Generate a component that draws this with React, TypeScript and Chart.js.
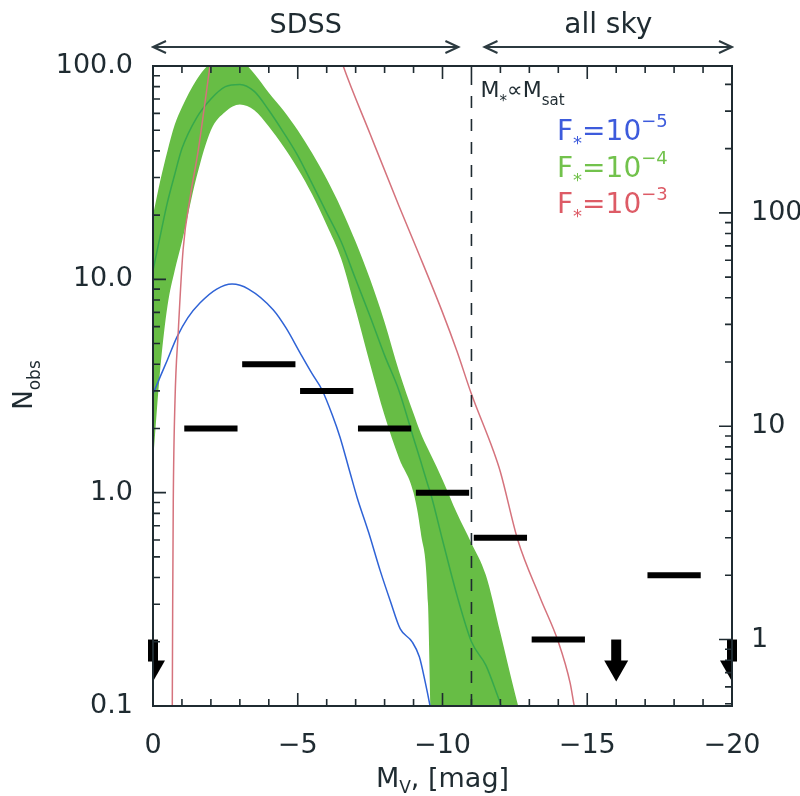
import React, { useEffect, useRef } from 'react';
import { Chart, registerables } from 'chart.js';

Chart.register(...registerables);

const FONT = '"DejaVu Sans", sans-serif';
const INK = '#1f2b31';
const K_RIGHT = 4.88; // right-axis value per left-axis value

// ---- F* = 1e-4 band (upper / centre / lower) on a common magnitude grid
const bandX = [0, -0.25, -0.5, -0.75, -1, -1.5, -2, -2.5, -3, -3.5, -4, -4.5, -5, -5.5, -6, -6.5, -7, -7.5, -8, -8.5, -9, -9.25, -9.5, -9.6, -10, -10.5, -11, -11.5, -12, -12.5, -12.8];
const bandUpper = [20, 29, 40, 53, 64, 86, 104, 114, 108, 92, 75, 62, 50, 39, 29.5, 21.5, 15, 10, 6.3, 3.7, 2.35, 1.9, 1.6, 1.5, 1.15, 0.8, 0.58, 0.41, 0.22, 0.115, 0.08];
const bandMid = [11, 16, 23, 31, 41, 57, 70, 80, 82, 76, 62, 49, 38, 28, 20.5, 15, 10, 6.7, 4.4, 3.0, 1.8, 1.4, 1.08, 0.98, 0.6, 0.33, 0.2, 0.155, 0.103, 0.07, 0.05];
const bandLower = [1.4, 3.8, 7.5, 11, 15, 30, 50, 61, 66, 62, 52, 42, 33, 25, 18, 12.5, 7.2, 4.0, 2.3, 1.45, 1.0, 0.65, 0.3, 0.08, 0.03, 0.03, 0.03, 0.03, 0.03, 0.03, 0.03];

// ---- F* = 1e-5 curve
const blueX = [0, -0.25, -0.5, -0.83, -1.2, -1.62, -2.2, -2.73, -3.3, -4.15, -4.6, -5.08, -5.5, -5.84, -6.2, -6.46, -6.8, -7.05, -7.45, -7.85, -8.2, -8.54, -8.95, -9.2, -9.4, -9.57, -9.7];
const blueY = [2.9, 3.5, 4.2, 5.37, 6.6, 7.74, 9.0, 9.5, 9.0, 7.2, 5.9, 4.52, 3.6, 3.03, 2.3, 1.82, 1.25, 0.95, 0.65, 0.43, 0.31, 0.23, 0.2, 0.17, 0.13, 0.1, 0.08];

// ---- F* = 1e-3 curve
const redX = [-0.66, -0.68, -0.7, -0.76, -0.87, -1.04, -1.3, -1.56, -1.8, -1.97, -2.2, -6.3, -6.57, -7.5, -8.5, -9.12, -10, -10.5, -11, -11.75, -12.0, -12.6, -13.38, -14.0, -14.41, -14.55, -14.7];
const redY = [0.06, 0.3, 0.9, 2.7, 5.6, 13.8, 25, 40, 68, 100, 150, 130, 100, 48, 22, 13.8, 7, 4.6, 2.9, 1.58, 1.25, 0.6, 0.32, 0.2, 0.128, 0.1, 0.08];

// ---- observed counts
const sdssBinCenters = [-2, -4, -6, -8, -10];
const sdssCounts = [2, 4, 3, 2, 1]; // left axis
const allSkyBinCenters = [-12, -14, -18];
const allSkyCounts = [3, 1, 2]; // right axis
const binHalfWidth = 0.92;
const limitX = [0, -16, -20];
const limitY = [1, 1, 1]; // right axis upper limits

const satMag = -11; // M* ∝ Msat divide
const sdssRange = [0, -10.55];
const allSkyRange = [-11.45, -20];

const yLeftTicks = [0.1, 1, 10, 100];
const yLeftLabels = ['0.1', '1.0', '10.0', '100.0'];
const yRightTicks = [1, 10, 100];
const yRightLabels = ['1', '10', '100'];

type Part = { t: string; size: number; dy?: number; color?: string };

function drawRich(ctx: CanvasRenderingContext2D, parts: Part[], x: number, y: number, align: 'left' | 'center') {
  let total = 0;
  const widths = parts.map((p) => {
    ctx.font = `${p.size}px ${FONT}`;
    const w = ctx.measureText(p.t).width;
    total += w;
    return w;
  });
  let cx = align === 'center' ? x - total / 2 : x;
  ctx.textAlign = 'left';
  ctx.textBaseline = 'alphabetic';
  parts.forEach((p, i) => {
    ctx.font = `${p.size}px ${FONT}`;
    ctx.fillStyle = p.color || INK;
    ctx.fillText(p.t, cx, y + (p.dy || 0));
    cx += widths[i];
  });
}

const decor = {
  id: 'decor',
  afterDatasetsDraw(chart: any) {
    const { ctx, chartArea: a, scales } = chart;
    const xs = scales.x, ys = scales.y, y2 = scales.y2;
    ctx.save();

    // upper-limit arrows
    ctx.fillStyle = '#000';
    limitX.forEach((lx, i) => {
      const px = xs.getPixelForValue(lx);
      const py = y2.getPixelForValue(limitY[i]);
      ctx.fillRect(px - 5, py, 10, 22);
      ctx.save();
      ctx.beginPath();
      ctx.rect(a.left, a.top, a.right - a.left, a.bottom - a.top);
      ctx.clip();
      ctx.beginPath();
      ctx.moveTo(px - 12, py + 21);
      ctx.lineTo(px + 12, py + 21);
      ctx.lineTo(px, py + 42);
      ctx.closePath();
      ctx.fill();
      ctx.restore();
    });

    // frame
    ctx.strokeStyle = INK;
    ctx.lineWidth = 2;
    ctx.strokeRect(a.left, a.top, a.right - a.left, a.bottom - a.top);

    // inward ticks
    ctx.lineWidth = 1.6;
    ctx.beginPath();
    for (let v = 0; v >= -20; v--) {
      const px = xs.getPixelForValue(v);
      const L = v % 5 === 0 ? 13 : 7;
      ctx.moveTo(px, a.bottom); ctx.lineTo(px, a.bottom - L);
      ctx.moveTo(px, a.top); ctx.lineTo(px, a.top + L);
    }
    const decades = [0.1, 1, 10, 100];
    decades.forEach((d) => {
      for (let m = 1; m <= 9; m++) {
        const v = d * m;
        if (v >= 0.0999 && v <= 100.01) {
          const py = ys.getPixelForValue(v);
          ctx.moveTo(a.left, py); ctx.lineTo(a.left + (m === 1 ? 13 : 7), py);
        }
      }
    });
    [0.1, 1, 10, 100].forEach((d) => {
      for (let m = 1; m <= 9; m++) {
        const v = d * m;
        if (v >= y2.min && v <= y2.max) {
          const py = y2.getPixelForValue(v);
          ctx.moveTo(a.right, py); ctx.lineTo(a.right - (m === 1 ? 13 : 7), py);
        }
      }
    });
    ctx.stroke();

    // survey range arrows
    const arrowY = 47;
    const hArrow = (v1: number, v2: number) => {
      const x1 = xs.getPixelForValue(v1), x2 = xs.getPixelForValue(v2);
      ctx.beginPath();
      ctx.moveTo(x1, arrowY); ctx.lineTo(x2, arrowY);
      ctx.moveTo(x1 + 13, arrowY - 6); ctx.lineTo(x1, arrowY); ctx.lineTo(x1 + 13, arrowY + 6);
      ctx.moveTo(x2 - 13, arrowY - 6); ctx.lineTo(x2, arrowY); ctx.lineTo(x2 - 13, arrowY + 6);
      ctx.stroke();
    };
    ctx.strokeStyle = '#2c3a40';
    ctx.lineWidth = 2;
    hArrow(sdssRange[0], sdssRange[1]);
    hArrow(allSkyRange[0], allSkyRange[1]);
    const midS = xs.getPixelForValue((sdssRange[0] + sdssRange[1]) / 2);
    const midA = xs.getPixelForValue((allSkyRange[0] + allSkyRange[1]) / 2);
    drawRich(ctx, [{ t: 'SDSS', size: 27 }], midS, 33, 'center');
    drawRich(ctx, [{ t: 'all sky', size: 28 }], midA, 33, 'center');

    // annotation at the dashed line
    const sx = xs.getPixelForValue(satMag) + 9;
    drawRich(ctx, [
      { t: 'M', size: 22 },
      { t: '*', size: 15, dy: 9 },
      { t: '∝', size: 22 },
      { t: 'M', size: 22 },
      { t: 'sat', size: 15, dy: 8 },
    ], sx, a.top + 31, 'left');

    // legend
    const legend = [
      { exp: '−5', color: '#3d5bdc', y: 140 },
      { exp: '−4', color: '#72c24c', y: 177 },
      { exp: '−3', color: '#dd5b66', y: 213 },
    ];
    legend.forEach((l) => {
      drawRich(ctx, [
        { t: 'F', size: 28, color: l.color },
        { t: '*', size: 18, dy: 9, color: l.color },
        { t: '=10', size: 28, color: l.color },
        { t: l.exp, size: 18, dy: -13, color: l.color },
      ], 557, l.y, 'left');
    });

    // axis titles
    const cxTitle = (a.left + a.right) / 2;
    drawRich(ctx, [
      { t: 'M', size: 27 },
      { t: 'V', size: 17, dy: 6 },
      { t: ', [mag]', size: 27 },
    ], cxTitle, 787, 'center');

    ctx.save();
    ctx.translate(32, 385);
    ctx.rotate(-Math.PI / 2);
    drawRich(ctx, [
      { t: 'N', size: 26 },
      { t: 'obs', size: 17, dy: 8 },
    ], 0, 0, 'center');
    ctx.restore();

    ctx.restore();
  },
};

export default function App() {
  const ref = useRef<HTMLCanvasElement>(null);
  useEffect(() => {
    const canvas = ref.current;
    if (!canvas) return;
    const datasets: any[] = [];
    const bar = (c: number, v: number, axis: string) => ({
      data: [{ x: c + binHalfWidth, y: v }, { x: c - binHalfWidth, y: v }],
      borderColor: '#000', borderWidth: 6, borderCapStyle: 'butt', pointRadius: 0, yAxisID: axis, fill: false,
    });
    sdssBinCenters.forEach((c, i) => datasets.push(bar(c, sdssCounts[i], 'y')));
    allSkyBinCenters.forEach((c, i) => datasets.push(bar(c, allSkyCounts[i], 'y2')));
    datasets.push({
      data: [{ x: satMag, y: 0.1 }, { x: satMag, y: 100 }],
      borderColor: INK, borderWidth: 1.6, borderDash: [12, 11], pointRadius: 0, yAxisID: 'y', fill: false,
    });
    const smooth = { cubicInterpolationMode: 'monotone', pointRadius: 0, yAxisID: 'y' };
    datasets.push({
      ...smooth,
      data: redX.map((x, i) => ({ x, y: redY[i] })),
      borderColor: '#d5737d', borderWidth: 1.5, fill: false,
    });
    datasets.push({
      ...smooth,
      data: blueX.map((x, i) => ({ x, y: blueY[i] })),
      borderColor: '#2f63d6', borderWidth: 1.5, fill: false,
    });
    datasets.push({
      ...smooth,
      data: bandX.map((x, i) => ({ x, y: bandMid[i] })),
      borderColor: '#36a84c', borderWidth: 1.5, fill: false,
    });
    datasets.push({
      ...smooth,
      data: bandX.map((x, i) => ({ x, y: bandUpper[i] })),
      borderColor: 'rgba(0,0,0,0)', borderWidth: 0, backgroundColor: '#67bd45', fill: '+1',
    });
    datasets.push({
      ...smooth,
      data: bandX.map((x, i) => ({ x, y: bandLower[i] })),
      borderColor: 'rgba(0,0,0,0)', borderWidth: 0, fill: false,
    });

    const tickFont = { family: FONT, size: 27 };
    const chart = new Chart(canvas, {
      type: 'line',
      data: { datasets },
      options: {
        responsive: false,
        animation: false,
        devicePixelRatio: 1,
        layout: { padding: { top: 66, left: 0, right: 0, bottom: 0 } },
        elements: { line: { capBezierPoints: false } },
        plugins: { legend: { display: false }, tooltip: { enabled: false } },
        scales: {
          x: {
            type: 'linear', min: -20, max: 0, reverse: true, position: 'bottom',
            grid: { display: false }, border: { display: false },
            ticks: {
              stepSize: 5, autoSkip: false, maxRotation: 0, font: tickFont, color: INK, padding: 16,
              callback: (v: any) => (Number(v) === 0 ? '0' : '−' + Math.abs(Number(v))),
            },
            afterFit: (s: any) => { s.height = 90; },
          },
          y: {
            type: 'logarithmic', min: 0.1, max: 100, position: 'left',
            grid: { display: false }, border: { display: false },
            ticks: {
              autoSkip: false, font: tickFont, color: INK, padding: 12,
              callback: (v: any) => {
                const i = yLeftTicks.findIndex((t) => Math.abs(t - Number(v)) < 1e-9);
                return i >= 0 ? yLeftLabels[i] : '';
              },
            },
            afterBuildTicks: (s: any) => { s.ticks = yLeftTicks.map((value) => ({ value })); },
            afterFit: (s: any) => { s.width = 153; },
          },
          y2: {
            type: 'logarithmic', min: 0.1 * K_RIGHT, max: 100 * K_RIGHT, position: 'right',
            grid: { display: false }, border: { display: false },
            ticks: {
              autoSkip: false, font: tickFont, color: INK, padding: 11,
              callback: (v: any) => {
                const i = yRightTicks.findIndex((t) => Math.abs(t - Number(v)) < 1e-9);
                return i >= 0 ? yRightLabels[i] : '';
              },
            },
            afterBuildTicks: (s: any) => { s.ticks = yRightTicks.map((value) => ({ value })); },
            afterFit: (s: any) => { s.width = 68; },
          },
        },
      } as any,
      plugins: [decor],
    });
    return () => chart.destroy();
  }, []);

  return (
    <div style={{ position: 'fixed', left: 0, top: 0, width: 800, height: 796, background: '#fff' }}>
      <canvas ref={ref} width={800} height={796} style={{ display: 'block' }} />
    </div>
  );
}
